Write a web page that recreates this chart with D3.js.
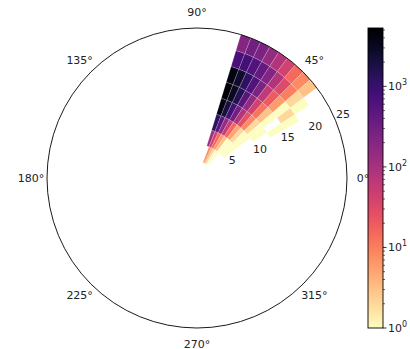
<!DOCTYPE html>
<html>
<head>
<meta charset="utf-8">
<script src="https://cdn.jsdelivr.net/npm/d3@7"></script>
<style>
  body { margin: 0; background: #fff; }
  text { font-family: "DejaVu Sans", sans-serif; fill: #222; }
</style>
</head>
<body>
<svg id="chart" width="410" height="349"></svg>
<script>
// bin edges (angle in degrees, radius in data units)
const angleEdges = [29, 33, 37, 41, 45, 49, 53, 57, 61, 65, 69, 73];
const radiusEdges = [0, 2.78, 5.56, 8.33, 11.11, 13.89, 16.67, 19.44, 22.22, 25];

// counts per radial ring (inner -> outer), columns follow angleEdges (low -> high angle)
const counts = [
  [0, 0, 0, 0, 0, 0, 0, 0, 0, 0, 0],
  [0, 0, 0, 0, 0, 1, 1, 2, 4, 8, 0],
  [0, 0, 1, 1, 1, 1, 3, 6, 15, 40, 120],
  [0, 0, 1, 1, 2, 5, 15, 50, 150, 500, 1200],
  [0, 1, 1, 2, 8, 25, 80, 300, 800, 2000, 4000],
  [1, 0, 1, 3, 12, 40, 150, 500, 1500, 3000, 5300],
  [1, 2, 1, 6, 20, 60, 250, 600, 1200, 2500, 4000],
  [0, 1, 2, 10, 30, 80, 200, 400, 600, 800, 700],
  [0, 0, 3, 8, 15, 40, 80, 150, 250, 300, 200]
];

const angleTicks = [0, 45, 90, 135, 180, 225, 270, 315];
const radialTicks = [5, 10, 15, 20, 25];
const cbMajor = [1, 10, 100, 1000];
const cbExponents = ["0", "1", "2", "3"];

const cx = 197, cy = 178, R = 150;
const svg = d3.select("#chart");
const g = svg.append("g").attr("transform", `translate(${cx},${cy})`);

const r = d3.scaleLinear().domain([0, 25]).range([0, R]);
const vmax = d3.max(counts.flat());
const norm = d3.scaleLog().domain([1, vmax]).range([0, 1]);
const color = c => d3.interpolateMagma(1 - norm(c));

const toRad = d => d * Math.PI / 180;

// cells
const cells = [];
counts.forEach((row, i) => {
  row.forEach((c, j) => {
    if (c > 0) cells.push({ i, j, c });
  });
});

const arc = d3.arc()
  .innerRadius(d => r(radiusEdges[d.i]))
  .outerRadius(d => r(radiusEdges[d.i + 1]))
  .startAngle(d => Math.PI / 2 - toRad(angleEdges[d.j + 1]))
  .endAngle(d => Math.PI / 2 - toRad(angleEdges[d.j]));

g.selectAll("path.cell")
  .data(cells)
  .enter()
  .append("path")
  .attr("class", "cell")
  .attr("d", arc)
  .attr("fill", d => color(d.c))
  .attr("stroke", "#fff")
  .attr("stroke-opacity", 0.35)
  .attr("stroke-width", 0.5);

// outer circle
g.append("circle")
  .attr("r", R)
  .attr("fill", "none")
  .attr("stroke", "#000")
  .attr("stroke-width", 0.9);

// angle labels
g.selectAll("text.ang")
  .data(angleTicks)
  .enter()
  .append("text")
  .attr("class", "ang")
  .attr("x", d => (R + 16) * Math.cos(toRad(d)))
  .attr("y", d => -(R + 16) * Math.sin(toRad(d)))
  .attr("text-anchor", "middle")
  .attr("dominant-baseline", "central")
  .attr("font-size", 11)
  .text(d => d + "°");

// radial labels along 22.5°
g.selectAll("text.rad")
  .data(radialTicks)
  .enter()
  .append("text")
  .attr("class", "rad")
  .attr("x", d => r(d) * Math.cos(toRad(22.5)) + 7.5)
  .attr("y", d => -r(d) * Math.sin(toRad(22.5)) - 6)
  .attr("text-anchor", "middle")
  .attr("dominant-baseline", "central")
  .attr("font-size", 11)
  .text(d => d);

// colorbar
const cbX = 368, cbY = 28, cbW = 15, cbH = 300;
const cb = d3.scaleLog().domain([1, vmax]).range([cbY + cbH, cbY]);

const defs = svg.append("defs");
const grad = defs.append("linearGradient")
  .attr("id", "cbgrad")
  .attr("x1", 0).attr("y1", 1).attr("x2", 0).attr("y2", 0);
d3.range(0, 1.0001, 0.02).forEach(t => {
  grad.append("stop")
    .attr("offset", t)
    .attr("stop-color", d3.interpolateMagma(1 - t));
});

svg.append("rect")
  .attr("x", cbX).attr("y", cbY)
  .attr("width", cbW).attr("height", cbH)
  .attr("fill", "url(#cbgrad)")
  .attr("stroke", "#000")
  .attr("stroke-width", 0.9);

const minor = [];
for (let e = 0; e < 4; e++) {
  for (let k = 2; k <= 9; k++) {
    const v = k * Math.pow(10, e);
    if (v <= vmax) minor.push(v);
  }
}

const cbAxis = svg.append("g").attr("transform", `translate(${cbX + cbW},0)`);
cbAxis.selectAll("line.minor")
  .data(minor)
  .enter()
  .append("line")
  .attr("x1", 0).attr("x2", 2)
  .attr("y1", d => cb(d)).attr("y2", d => cb(d))
  .attr("stroke", "#000")
  .attr("stroke-width", 0.6);

cbAxis.selectAll("line.major")
  .data(cbMajor)
  .enter()
  .append("line")
  .attr("x1", 0).attr("x2", 3.5)
  .attr("y1", d => cb(d)).attr("y2", d => cb(d))
  .attr("stroke", "#000")
  .attr("stroke-width", 0.8);

const lab = cbAxis.selectAll("text.cbl")
  .data(cbMajor)
  .enter()
  .append("text")
  .attr("class", "cbl")
  .attr("x", 5)
  .attr("y", d => cb(d) + 4)
  .attr("font-size", 11);
lab.append("tspan").text("10");
lab.append("tspan")
  .attr("dy", -5)
  .attr("font-size", 8)
  .text((d, i) => cbExponents[i]);
</script>
</body>
</html>
